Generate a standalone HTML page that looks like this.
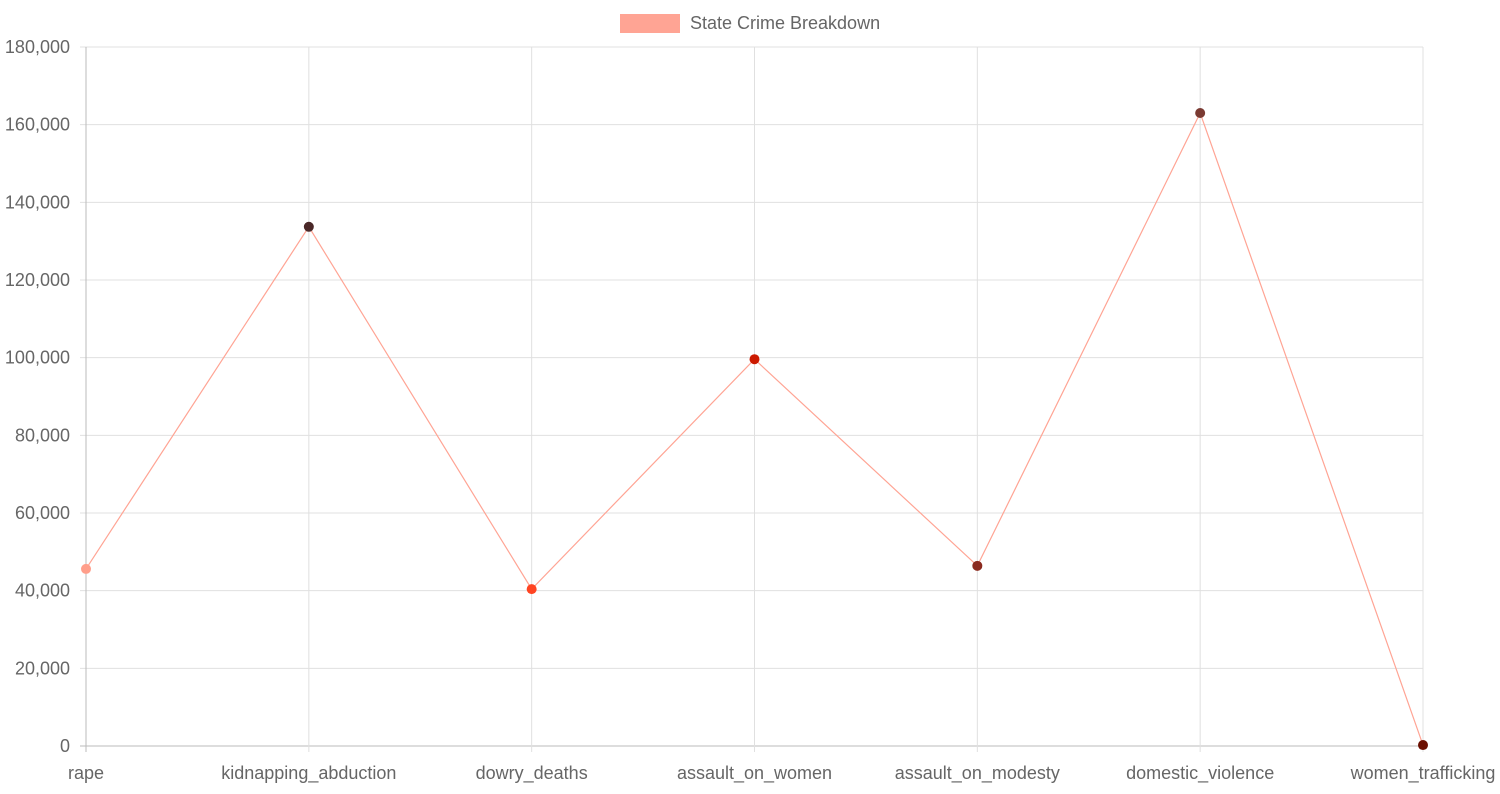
<!DOCTYPE html>
<html><head><meta charset="utf-8"><style>
body{margin:0;background:#fff;width:1500px;height:789px;overflow:hidden}
svg{font-family:"Liberation Sans",sans-serif}
</style></head><body>
<svg id="chart" width="1500" height="789"></svg>
<script>
const categories=["rape","kidnapping_abduction","dowry_deaths","assault_on_women","assault_on_modesty","domestic_violence","women_trafficking"];
const values=[45600,133700,40400,99600,46400,163000,250];
const pointColors=["#ff9e8a","#4a2828","#ff4422","#cc1a00","#8b2a1e","#7a3a32","#6b0f00"];
const yTicks=[0,20000,40000,60000,80000,100000,120000,140000,160000,180000];
const NS="http://www.w3.org/2000/svg";
const svg=document.getElementById('chart');
const L=86,R=1423,T=47,B=746,yMax=180000;
const x=i=>L+i*(R-L)/(categories.length-1);
const y=v=>B-v/yMax*(B-T);
function mk(tag,attrs,parent){const e=document.createElementNS(NS,tag);for(const k in attrs)e.setAttribute(k,attrs[k]);(parent||svg).appendChild(e);return e;}
yTicks.forEach(t=>{
 const g=mk('line',{x1:L-6,x2:R,y1:y(t),y2:y(t),stroke:t===0?'#bbb':'#e0e0e0','stroke-width':1});
 
 
 const tx=mk('text',{x:L-16,y:y(t)+6,'text-anchor':'end','font-size':18,fill:'#666'});
 tx.textContent=t.toLocaleString('en-US');
 
 
});
categories.forEach((c,i)=>{
 const g=mk('line',{x1:x(i),x2:x(i),y1:T,y2:B+6,stroke:i===0?'#bbb':'#e0e0e0','stroke-width':1});
 
 
 const tx=mk('text',{x:x(i),y:779,'text-anchor':'middle','font-size':18,fill:'#666'});
 tx.textContent=c;
 
 
});
const line=mk('polyline',{points:values.map((v,i)=>x(i)+','+y(v)).join(' '),fill:'none',stroke:'#ffa494','stroke-width':1.2});


values.forEach((v,i)=>{
 const p=mk('circle',{cx:x(i),cy:y(v),r:5,fill:pointColors[i]});
 
 
});
const lb=mk('rect',{x:620,y:14,width:60,height:19,fill:'#ffa494'});


const lt=mk('text',{x:690,y:29,'font-size':18,fill:'#666'});
lt.textContent='State Crime Breakdown';


</script>
</body></html>
